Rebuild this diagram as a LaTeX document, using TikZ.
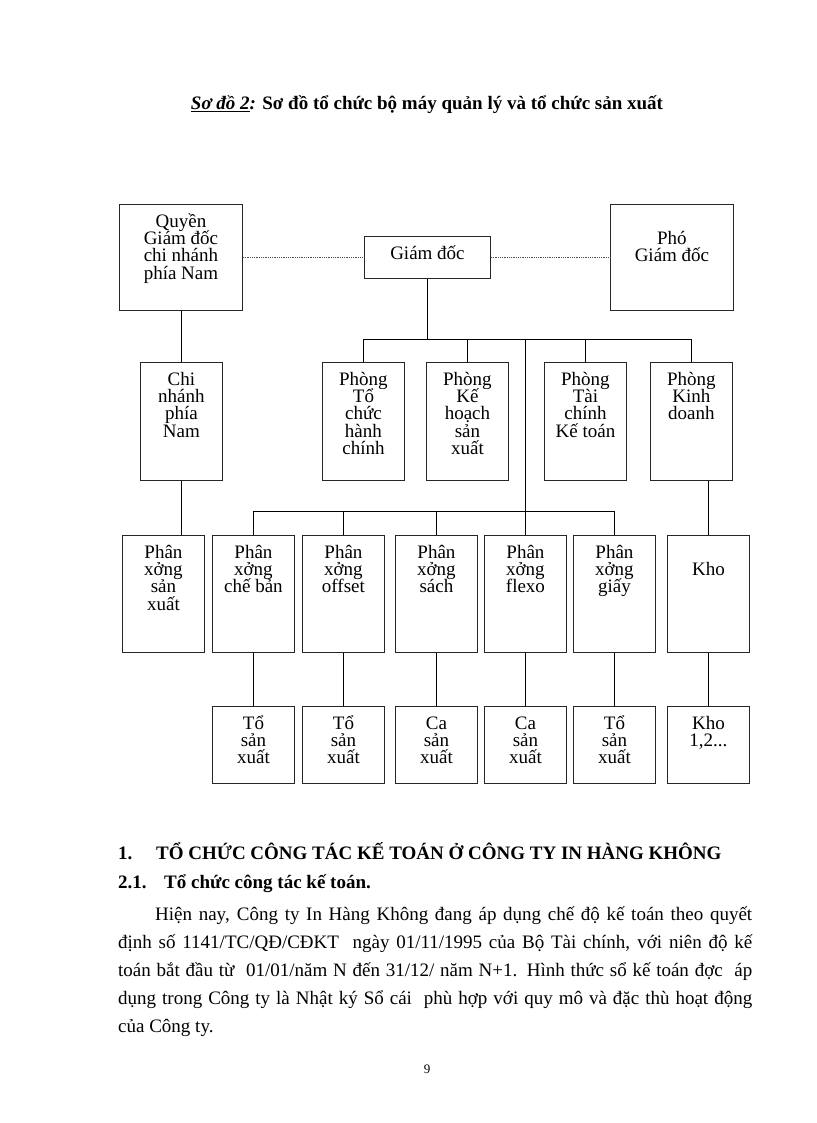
\documentclass[tikz,border=0pt]{standalone}
\usepackage{fontspec}
\setmainfont{Liberation Serif}
\newcommand{\orgbox}[5]{
  \node[orgnode] (#1) at (#2) {\parbox[c][#4][t]{#3}{\lineskiplimit=-30pt\lineskip=0pt
      \centering\rule{0pt}{23pt}#5}};}

\begin{document}
\begin{tikzpicture}[x=1pt, y=-1pt]

\tikzset{ orgnode/.style={draw=black!85, line width=0.9pt, inner sep=0pt,
    anchor=north west, font=\fontsize{19}{17.2}\selectfont},
  link/.style={draw=black, line width=0.9pt},
  dotlink/.style={draw=black!70, line width=0.8pt, densely dotted},
  bodytext/.style={anchor=base west, inner sep=0pt, font=\fontsize{19}{28}\selectfont},
  headtext/.style={anchor=base west, inner sep=0pt, font=\fontsize{19}{28}\selectfont\bfseries}
}

\useasboundingbox[fill=white] (0,0) rectangle (816,1123);

% Title
\node[anchor=base, inner sep=0pt, font=\fontsize{19}{21}\selectfont\bfseries] (title) at (427,110)
  {\underline{\textit{Sơ đồ 2}}\textit{:} Sơ đồ tổ chức bộ máy quản lý và tổ chức sản xuất};

% Top row
\orgbox{qgd}{119,204}{123pt}{106pt}{Quyền\\Giám đốc\\chi nhánh\\phía Nam}
\orgbox{gd}{364,236}{126pt}{42pt}{Giám đốc}
\orgbox{pgd}{610,204}{123pt}{106pt}{\mbox{}\\Phó\\Giám đốc}

% Departments
\orgbox{cn}{140,362}{82pt}{118pt}{Chi\\nhánh\\phía\\Nam}
\orgbox{tchc}{322,362}{82pt}{118pt}{Phòng\\Tổ\\chức\\hành\\chính}
\orgbox{khsx}{426,362}{82pt}{118pt}{Phòng\\Kế\\hoạch\\sản\\xuất}
\orgbox{tckt}{544,362}{82pt}{118pt}{Phòng\\Tài\\chính\\Kế toán}
\orgbox{kd}{650,362}{82pt}{118pt}{Phòng\\Kinh\\doanh}

% Workshops
\orgbox{pxsx}{122,535}{82pt}{117pt}{Phân\\xởng\\sản\\xuất}
\orgbox{cb}{212,535}{82pt}{117pt}{Phân\\xởng\\chế bản}
\orgbox{os}{302,535}{82pt}{117pt}{Phân\\xởng\\offset}
\orgbox{sach}{395,535}{82pt}{117pt}{Phân\\xởng\\sách}
\orgbox{flexo}{484,535}{82pt}{117pt}{Phân\\xởng\\flexo}
\orgbox{giay}{573,535}{82pt}{117pt}{Phân\\xởng\\giấy}
\orgbox{kho}{667,535}{82pt}{117pt}{\mbox{}\\Kho}

% Teams
\orgbox{tsx1}{212,706}{82pt}{77pt}{Tổ\\sản\\xuất}
\orgbox{tsx2}{302,706}{82pt}{77pt}{Tổ\\sản\\xuất}
\orgbox{ca1}{395,706}{82pt}{77pt}{Ca\\sản\\xuất}
\orgbox{ca2}{484,706}{82pt}{77pt}{Ca\\sản\\xuất}
\orgbox{tsx3}{573,706}{82pt}{77pt}{Tổ\\sản\\xuất}
\orgbox{kho2}{667,706}{82pt}{77pt}{Kho\\1,2...}

% Connectors
\coordinate (bus1) at (0,339);
\coordinate (bus2) at (0,511);
\draw[dotlink] (qgd) -- (gd);
\draw[dotlink] (gd) -- (pgd);
\draw[link] (gd.south) -- (gd.south |- bus1);
\draw[link] (tchc.north) |- (kd.north |- bus1) -- (kd.north);
\draw[link] (khsx.north) -- (khsx.north |- bus1);
\draw[link] (tckt.north) -- (tckt.north |- bus1);
\draw[link] (flexo.north) -- (flexo.north |- bus1);
\draw[link] (cb.north) |- (giay.north |- bus2) -- (giay.north);
\draw[link] (os.north) -- (os.north |- bus2);
\draw[link] (sach.north) -- (sach.north |- bus2);
\draw[link] (cn.north |- qgd.south) -- (cn.north);
\draw[link] (cn.south) -- (cn.south |- pxsx.north);
\draw[link] (kho.north |- kd.south) -- (kho.north);
\draw[link] (cb.south) -- (tsx1.north);
\draw[link] (os.south) -- (tsx2.north);
\draw[link] (sach.south) -- (ca1.north);
\draw[link] (flexo.south) -- (ca2.north);
\draw[link] (giay.south) -- (tsx3.north);
\draw[link] (kho.south) -- (kho2.north);

% Text below
\node[headtext] (h1n) at (118,859) {1.};
\node[headtext] (h1) at (156,859) {TỔ CHỨC CÔNG TÁC KẾ TOÁN Ở CÔNG TY IN HÀNG KHÔNG};
\node[headtext] (h2n) at (118,888) {2.1.};
\node[headtext] (h2) at (164,888) {Tổ chức công tác kế toán.};

\node[bodytext] (p1) at (155,920) {\makebox[597pt][s]{Hiện nay, Công ty In Hàng Không đang áp dụng chế độ kế toán theo quyết}};
\node[bodytext] (p2) at (118,948) {\makebox[634pt][s]{định số 1141/TC/QĐ/CĐKT\ \ ngày 01/11/1995 của Bộ Tài chính, với niên độ kế}};
\node[bodytext] (p3) at (118,976) {\makebox[634pt][s]{toán bắt đầu từ\ \ 01/01/năm N đến 31/12/ năm N+1. Hình thức sổ kế toán đợc\ \ áp}};
\node[bodytext] (p4) at (118,1004) {\makebox[634pt][s]{dụng trong Công ty là Nhật ký Sổ cái\ \ phù hợp với quy mô và đặc thù hoạt động}};
\node[bodytext] (p5) at (118,1032) {của Công ty.};

% Page number
\node[anchor=base, inner sep=0pt, font=\fontsize{13}{15}\selectfont] (pageno) at (427,1073) {9};

\end{tikzpicture}
\end{document}
